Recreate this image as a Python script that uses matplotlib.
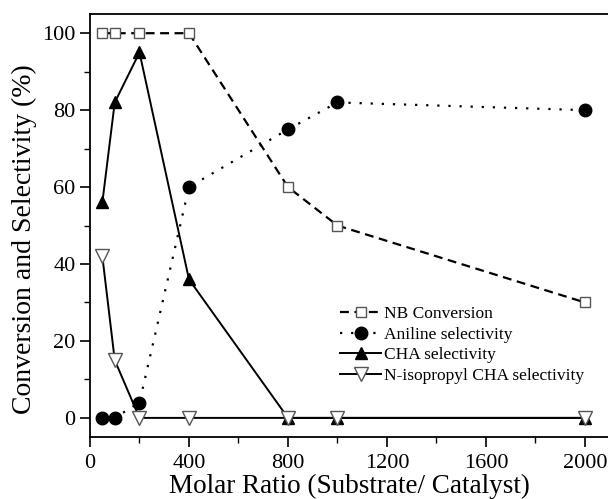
import numpy as np
import matplotlib
matplotlib.use("Agg")
from matplotlib import pyplot as plt
from matplotlib.ticker import MultipleLocator

plt.rcParams['font.family'] = ['Liberation Serif', 'DejaVu Serif']

# 摩尔比
ratio = [50, 100, 200, 400, 800, 1000, 2000]
nb_conversion = [100, 100, 100, 100, 60, 50, 30]
aniline_sel = [0, 0, 4, 60, 75, 82, 80]
cha_sel = [56, 82, 95, 36, 0, 0, 0]
niso_cha_sel = [42, 15, 0, 0, 0, 0, 0]

fig = plt.figure(figsize=(6.08, 4.99), dpi=100)
ax = fig.add_axes([0.148, 0.124, 0.852, 0.848])

ax.plot(ratio, nb_conversion, color='k', lw=1.6, dashes=(4, 2.5),
        marker='s', ms=7.5, mfc='white', mec='#555555', mew=1.0,
        label='NB Conversion', zorder=3)
ax.plot(ratio, aniline_sel, color='k', lw=1.6, linestyle=(0, (1, 4)),
        marker='o', ms=9, mfc='k', mec='k',
        label='Aniline selectivity', zorder=4)
ax.plot(ratio, cha_sel, color='k', lw=1.4, linestyle='-',
        marker='^', ms=9, mfc='k', mec='k',
        label='CHA selectivity', zorder=3)
ax.plot(ratio, niso_cha_sel, color='k', lw=1.4, linestyle='-',
        marker='v', ms=10, mfc='white', mec='#555555', mew=1.0,
        label='N-isopropyl CHA selectivity', zorder=5)

ax.set_xlim(0, 2093)
ax.set_ylim(-5, 105)
ax.xaxis.set_major_locator(MultipleLocator(400))
ax.xaxis.set_minor_locator(MultipleLocator(200))
ax.yaxis.set_major_locator(MultipleLocator(20))
ax.yaxis.set_minor_locator(MultipleLocator(10))
ax.tick_params(which='major', direction='out', length=7, width=1.2, labelsize=16)
ax.tick_params(axis='x', which='major', pad=5)
ax.tick_params(which='minor', direction='out', length=4, width=1.0)
ax.spines['right'].set_visible(False)
for s in ['left', 'bottom', 'top']:
    ax.spines[s].set_linewidth(1.3)

ax.set_xlabel('Molar Ratio (Substrate/ Catalyst)', fontsize=19.5)
ax.xaxis.set_label_coords(0.5, -0.087)
ax.set_ylabel('Conversion and Selectivity (%)', fontsize=20)
ax.yaxis.set_label_coords(-0.103, 0.467)

ax.legend(loc='upper left', bbox_to_anchor=(0.47, 0.326), frameon=False,
          fontsize=12.5, handlelength=2.35, handletextpad=0.15,
          labelspacing=0.25, borderaxespad=0)

plt.savefig("out.png", dpi=100)
plt.close()
